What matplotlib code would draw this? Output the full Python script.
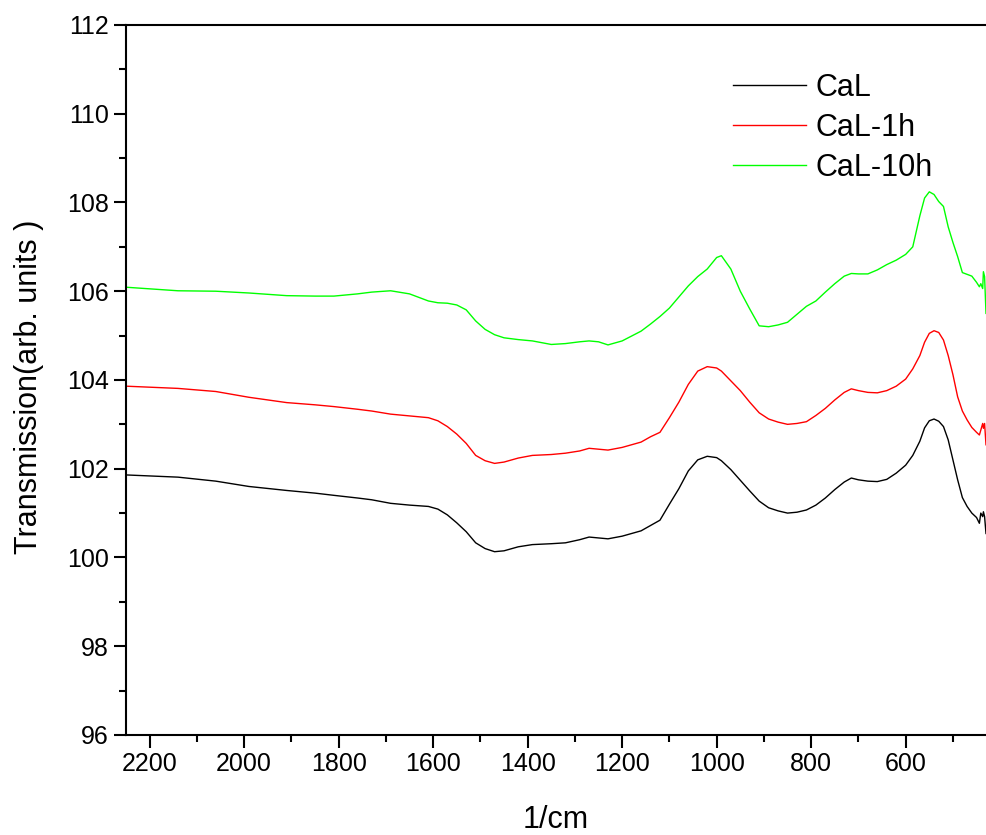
import numpy as np
import matplotlib
matplotlib.use('Agg')
import matplotlib.pyplot as plt
from matplotlib.ticker import MultipleLocator

plt.rcParams['font.family'] = ['Liberation Sans', 'DejaVu Sans']

# wavenumber grid (1/cm) and the three transmission spectra
wn = [2250, 2140, 2060, 1990, 1910, 1850, 1810, 1760, 1730, 1690, 1650, 1610,
      1590, 1570, 1550, 1530, 1510, 1490, 1470, 1450, 1420, 1390, 1350, 1320,
      1290, 1270, 1250, 1230, 1200, 1160, 1140, 1120, 1100, 1080, 1060, 1040,
      1020, 1000, 990, 970, 950, 930, 910, 890, 870, 850, 830, 810, 790, 770,
      750, 730, 715, 700, 680, 660, 640, 620, 600, 585, 570, 560, 550, 540,
      530, 520, 510, 500, 490, 480, 470, 460, 450, 444, 441, 437, 435.5, 433, 430]

cal = [101.86, 101.81, 101.72, 101.60, 101.51, 101.45, 101.40, 101.34, 101.30, 101.22, 101.18, 101.15,
       101.09, 100.96, 100.78, 100.58, 100.33, 100.20, 100.13, 100.15, 100.24, 100.29, 100.31, 100.33,
       100.40, 100.46, 100.44, 100.42, 100.48, 100.60, 100.72, 100.84, 101.20, 101.55, 101.95, 102.20,
       102.28, 102.25, 102.18, 101.98, 101.74, 101.50, 101.27, 101.12, 101.05, 101.00, 101.02, 101.07, 101.18, 101.34,
       101.53, 101.70, 101.79, 101.75, 101.72, 101.71, 101.76, 101.90, 102.08, 102.30, 102.62, 102.92, 103.08, 103.12,
       103.07, 102.95, 102.65, 102.20, 101.75, 101.35, 101.15, 101.00, 100.90, 100.77, 101.00, 100.92, 101.03, 100.92, 100.54]

cal_1h = [103.86, 103.81, 103.74, 103.61, 103.49, 103.44, 103.40, 103.34, 103.30, 103.23, 103.19, 103.15,
          103.08, 102.95, 102.78, 102.57, 102.30, 102.18, 102.12, 102.15, 102.24, 102.30, 102.32, 102.35,
          102.40, 102.46, 102.44, 102.42, 102.48, 102.60, 102.72, 102.82, 103.15, 103.50, 103.90, 104.20,
          104.30, 104.27, 104.20, 103.98, 103.76, 103.50, 103.26, 103.12, 103.05, 103.00, 103.02, 103.06, 103.20, 103.36,
          103.55, 103.72, 103.80, 103.76, 103.72, 103.71, 103.76, 103.86, 104.02, 104.25, 104.55, 104.85, 105.05, 105.11,
          105.07, 104.90, 104.55, 104.12, 103.62, 103.30, 103.10, 102.93, 102.82, 102.76, 102.87, 103.02, 102.91, 103.02, 102.54]

cal_10h = [106.09, 106.01, 106.00, 105.96, 105.90, 105.89, 105.89, 105.94, 105.98, 106.01, 105.94, 105.78,
           105.74, 105.73, 105.69, 105.58, 105.33, 105.14, 105.02, 104.95, 104.91, 104.88, 104.80, 104.82,
           104.86, 104.88, 104.86, 104.79, 104.88, 105.10, 105.26, 105.43, 105.62, 105.87, 106.12, 106.33,
           106.50, 106.76, 106.80, 106.50, 106.00, 105.60, 105.22, 105.20, 105.24, 105.30, 105.48, 105.66, 105.78, 105.98,
           106.17, 106.34, 106.40, 106.39, 106.39, 106.48, 106.60, 106.70, 106.83, 107.00, 107.70, 108.10, 108.24, 108.18,
           108.02, 107.91, 107.45, 107.10, 106.78, 106.42, 106.38, 106.34, 106.20, 106.10, 106.17, 106.06, 106.44, 106.33, 105.50]

fig = plt.figure(figsize=(9.86, 8.35), dpi=100)
ax = fig.add_axes([0.1278, 0.1198, 0.8722, 0.8503])

ax.plot(wn, cal, color='black', lw=1.0, label='CaL')
ax.plot(wn, cal_1h, color='#ff0000', lw=1.0, label='CaL-1h')
ax.plot(wn, cal_10h, color='#00ff00', lw=1.0, label='CaL-10h')

ax.set_xlim(2250, 430)
ax.set_ylim(96, 112)
ax.xaxis.set_major_locator(MultipleLocator(200))
ax.xaxis.set_minor_locator(MultipleLocator(100))
ax.yaxis.set_major_locator(MultipleLocator(2))
ax.yaxis.set_minor_locator(MultipleLocator(1))
ax.tick_params(which='major', direction='out', length=9, width=1.5, labelsize=18)
ax.tick_params(which='minor', direction='out', length=5, width=1.5)
ax.tick_params(top=False, right=False)
for s in ax.spines.values():
    s.set_linewidth(1.5)
ax.spines['right'].set_visible(False)

ax.set_xlabel('1/cm', fontsize=22)
ax.set_ylabel('Transmission(arb. units )', fontsize=22)
ax.xaxis.set_label_coords(0.5, -0.098)
ax.yaxis.set_label_coords(-0.095, 0.49)

ax.legend(loc='upper left', bbox_to_anchor=(0.706, 0.933), frameon=False,
          fontsize=22, handlelength=2.4, handletextpad=0.28, labelspacing=0.33,
          borderpad=0, borderaxespad=0)

fig.savefig('out.png', dpi=100)
